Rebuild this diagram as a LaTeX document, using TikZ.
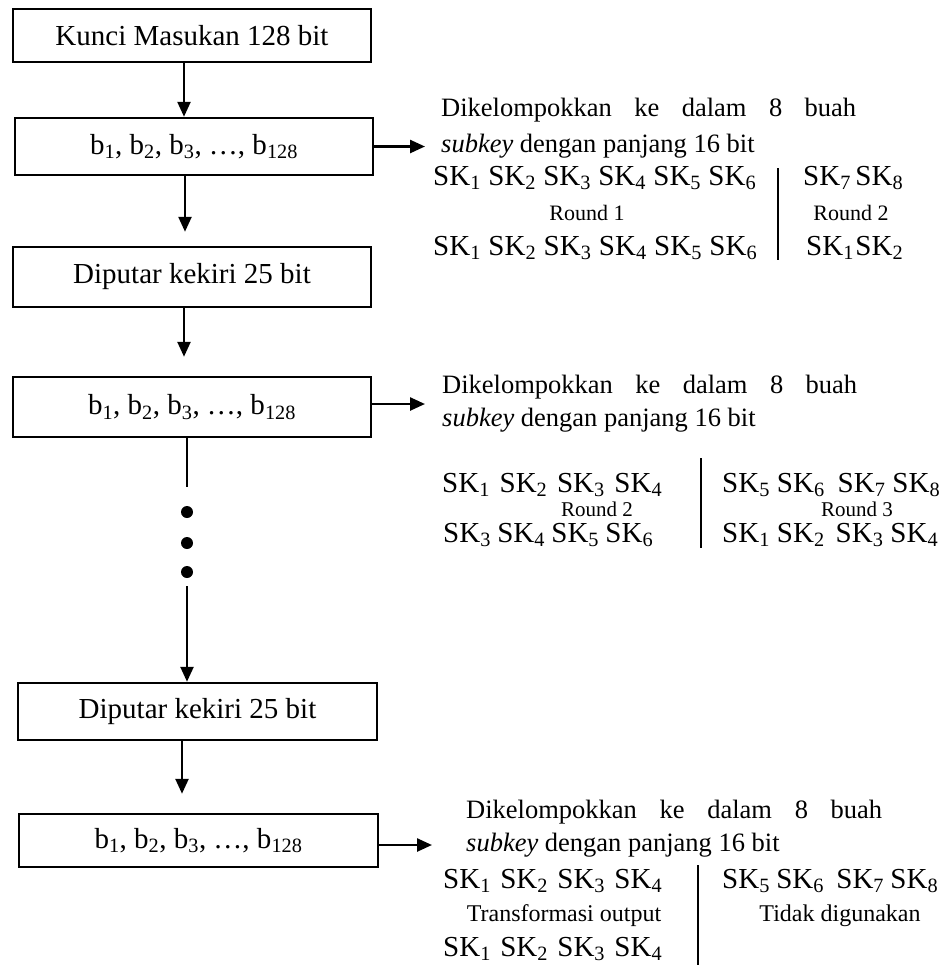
\documentclass[tikz,border=0pt]{standalone}
\usepackage{fontspec}
\setmainfont{Liberation Serif}
\usetikzlibrary{arrows.meta}
\newcommand\bxf{\fontsize{29}{34}\selectfont}
\newcommand\dsf{\fontsize{26.5}{31}\selectfont}
\newcommand\skf{\fontsize{29}{34}\selectfont}
\newcommand\rdf{\fontsize{22}{26}\selectfont}
\newcommand\rdg{\fontsize{21}{25}\selectfont}
\newcommand\lbf{\fontsize{24}{28}\selectfont}
\newcommand\SK[1]{SK\textsubscript{#1}}
\newcommand\bb[1]{b\textsubscript{#1}}
\begin{document}
\begin{tikzpicture}[x=1pt,y=-1pt,
  box/.style={draw,line width=2.5pt,inner sep=0pt,font=\bxf},
  arr/.style={line width=2.5pt,-{Triangle[width=13pt,length=15pt]}},
  ln/.style={line width=2.5pt},
  txt/.style={inner sep=0pt,anchor=base west,font=\dsf},
  skr/.style={inner sep=0pt,anchor=base west,font=\skf},
  rnd/.style={inner sep=0pt,anchor=base,font=\rdf},
  rnd2/.style={inner sep=0pt,anchor=base,font=\rdg},
  lab/.style={inner sep=0pt,anchor=base,font=\lbf},
  dot/.style={circle,fill,inner sep=0pt,minimum size=12pt},
  div/.style={line width=1.5pt}]
\fill[white] (0,0) rectangle (944,978);
\useasboundingbox (0,0) rectangle (944,978);

% left column boxes
\node[box,minimum width=358pt,minimum height=53pt] (b1) at (192,35.5) {Kunci Masukan 128 bit};
\node[box,minimum width=358pt,minimum height=57pt] (b2) at (194,146.5) {\bb1, \bb2, \bb3, …, \bb{128}};
\node[box,minimum width=358pt,minimum height=60pt] (b3) at (192,277) {Diputar kekiri 25 bit};
\node[box,minimum width=358pt,minimum height=60pt] (b4) at (192,407) {\bb1, \bb2, \bb3, …, \bb{128}};
\node[dot] (p1) at (187,512) {};
\node[dot] (p2) at (187,543) {};
\node[dot] (p3) at (187,572) {};
\node[box,minimum width=359pt,minimum height=57pt] (b5) at (197.5,711.5) {Diputar kekiri 25 bit};
\node[box,minimum width=359pt,minimum height=53pt] (b6) at (198.5,840.5) {\bb1, \bb2, \bb3, …, \bb{128}};

% vertical connectors
\draw[arr] ([xshift=-8pt]b1.south) -- ([xshift=-10pt]b2.north);
\draw[arr,shorten >=14pt] ([xshift=-9pt]b2.south) -- ([xshift=-7pt]b3.north);
\draw[arr,shorten >=19pt] ([xshift=-8pt]b3.south) -- ([xshift=-8pt]b4.north);
\draw[ln,shorten >=19pt] ([xshift=-5pt]b4.south) -- (p1);
\draw[arr,shorten <=8pt] (p3) -- ([xshift=-10.5pt]b5.north);
\draw[arr,shorten >=19pt] ([xshift=-15.5pt]b5.south) -- ([xshift=-16.5pt]b6.north);

% ---- block 1
\node[txt] (d1a) at (441,116) {\makebox[415pt][s]{Dikelompokkan ke dalam 8 buah}};
\node[txt] (d1b) at (441,152) {\textit{subkey} dengan panjang 16 bit};
\node[skr] (s1a) at (433,185) {\makebox[323pt][s]{\SK1\hfill\SK2\hfill\SK3\hfill\SK4\hfill\SK5\hfill\SK6}};
\node[skr] (s1b) at (803,185) {\makebox[100pt][s]{\SK7\hfill\SK8}};
\node[rnd] (r1a) at (587,220) {Round 1};
\node[rnd] (r1b) at (851,220) {Round 2};
\node[skr] (s1c) at (433,255) {\makebox[324pt][s]{\SK1\hfill\SK2\hfill\SK3\hfill\SK4\hfill\SK5\hfill\SK6}};
\node[skr] (s1d) at (806,255) {\makebox[97pt][s]{\SK1\hfill\SK2}};
\draw[div] (778,168) -- (778,260);
\draw[arr,shorten >=16pt] (b2.east) -- (b2.east -| d1b.west);

% ---- block 2
\node[txt] (d2a) at (442,393) {\makebox[415pt][s]{Dikelompokkan ke dalam 8 buah}};
\node[txt] (d2b) at (442,426) {\textit{subkey} dengan panjang 16 bit};
\node[skr] (s2a) at (442,492) {\makebox[220pt][s]{\SK1\hfill\SK2\hfill\SK3\hfill\SK4}};
\node[skr] (s2b) at (722,492) {\makebox[218pt][s]{\SK5\hfill\SK6\hfill\hspace{6pt}\SK7\hfill\SK8}};
\node[rnd2] (r2a) at (597,516) {Round 2};
\node[rnd2] (r2b) at (857,516) {Round 3};
\node[skr] (s2c) at (443,542) {\makebox[210pt][s]{\SK3\hfill\SK4\hfill\SK5\hfill\SK6}};
\node[skr] (s2d) at (722,542) {\makebox[216pt][s]{\SK1\hfill\SK2\hfill\hspace{4pt}\SK3\hfill\SK4}};
\draw[div] (701,458) -- (701,548);
\draw[arr,shorten >=17pt] ([yshift=3pt]b4.east) -- ([yshift=3pt]b4.east -| d2a.west);

% ---- block 3
\node[txt] (d3a) at (466,818) {\makebox[416pt][s]{Dikelompokkan ke dalam 8 buah}};
\node[txt] (d3b) at (466,851) {\textit{subkey} dengan panjang 16 bit};
\node[skr] (s3a) at (443,888) {\makebox[219pt][s]{\SK1\hfill\SK2\hfill\SK3\hfill\SK4}};
\node[skr] (s3b) at (722,888) {\makebox[216pt][s]{\SK5\hfill\SK6\hfill\hspace{6pt}\SK7\hfill\SK8}};
\node[lab] (l3a) at (564,921) {Transformasi output};
\node[lab] (l3b) at (840,921) {Tidak digunakan};
\node[skr] (s3c) at (443,956) {\makebox[219pt][s]{\SK1\hfill\SK2\hfill\SK3\hfill\SK4}};
\draw[div] (698,865) -- (698,965);
\draw[arr,shorten >=34pt] ([yshift=-4.5pt]b6.east) -- ([yshift=-4.5pt]b6.east -| d3b.west);
\end{tikzpicture}
\end{document}
